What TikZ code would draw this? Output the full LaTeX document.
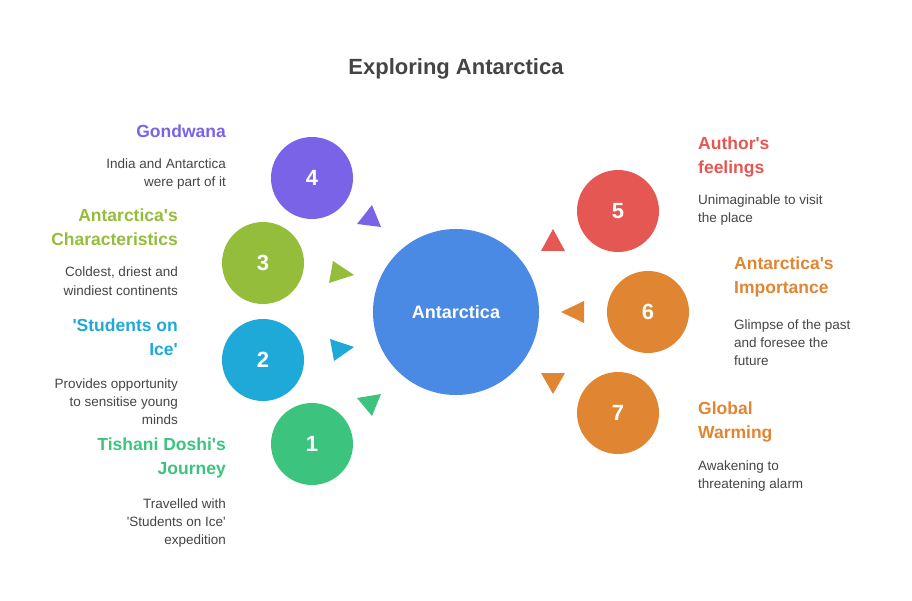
\documentclass[tikz,border=0pt]{standalone}
\usepackage{fontspec}
\setmainfont{Liberation Sans}
\newcommand{\q}{\textquotesingle}
\begin{document}
\begin{tikzpicture}[x=1pt,y=-1pt,
  big/.style={circle,minimum size=166pt,inner sep=0,fill=cblue,text=white,font=\bfseries\fontsize{18}{20}\selectfont},
  num/.style={circle,minimum size=82pt,inner sep=0,text=white,font=\bfseries\fontsize{22}{26}\selectfont},
  lab/.style={inner sep=0,font=\bfseries\fontsize{17.5}{24}\selectfont},
  desc/.style={inner sep=0,text=dtext,font=\fontsize{13.5}{18}\selectfont}]
\definecolor{cblue}{HTML}{4A89E4}
\definecolor{cpur}{HTML}{7B63E8}
\definecolor{cgrn}{HTML}{93BD3A}
\definecolor{ccyan}{HTML}{1FA9D8}
\definecolor{cgrn2}{HTML}{3CC47E}
\definecolor{cred}{HTML}{E55753}
\definecolor{corg}{HTML}{E08532}
\definecolor{dtext}{HTML}{444444}
\useasboundingbox (0,0) rectangle (912,601);
\node[inner sep=0,text=dtext,font=\bfseries\fontsize{22}{26}\selectfont,anchor=base] (title) at (456,75) {Exploring Antarctica};
\node[big] (c) at (456,312) {Antarctica};
\node[num,fill=cpur] (n4) at (312,178) {4};
\node[num,fill=cgrn] (n3) at (263,263) {3};
\node[num,fill=ccyan] (n2) at (263,360) {2};
\node[num,fill=cgrn2] (n1) at (312,444) {1};
\node[num,fill=cred] (n5) at (618,211) {5};
\node[num,fill=corg] (n6) at (648,312) {6};
\node[num,fill=corg] (n7) at (618,413) {7};
\fill[cpur] (372,205) -- (357,224) -- (381,227) -- cycle;
\fill[cgrn] (333,261) -- (354,275) -- (329,283) -- cycle;
\fill[ccyan] (330,339) -- (354,347) -- (334,361) -- cycle;
\fill[cgrn2] (357,398) -- (381,394) -- (372,416) -- cycle;
\fill[cred] (553,229) -- (541,251) -- (565,251) -- cycle;
\fill[corg] (584,301) -- (561,312) -- (584,323) -- cycle;
\fill[corg] (541,373) -- (565,373) -- (553,394) -- cycle;
% left
\node[lab,text=cpur,anchor=base east] (l4) at (226,138) {Gondwana};
\node[desc,align=right,anchor=base east] (d4) at (226,187) {India and Antarctica\\were part of it};
\node[lab,text=cgrn,align=right,anchor=base east] (l3) at (178,246) {Antarctica\q s\\Characteristics};
\node[desc,align=right,anchor=base east] (d3) at (178,295) {Coldest, driest and\\windiest continents};
\node[lab,text=ccyan,align=right,anchor=base east] (l2) at (178,355) {\q Students on\\Ice\q};
\node[desc,align=right,anchor=base east] (d2) at (178,424) {Provides opportunity\\to sensitise young\\minds};
\node[lab,text=cgrn2,align=right,anchor=base east] (l1) at (226,474) {Tishani Doshi\q s\\Journey};
\node[desc,align=right,anchor=base east] (d1) at (226,544) {Travelled with\\\q Students on Ice\q\\expedition};
% right
\node[lab,text=cred,align=left,anchor=base west] (l5) at (698,174) {Author\q s\\feelings};
\node[desc,align=left,anchor=base west] (d5) at (698,223) {Unimaginable to visit\\the place};
\node[lab,text=corg,align=left,anchor=base west] (l6) at (734,294) {Antarctica\q s\\Importance};
\node[desc,align=left,anchor=base west] (d6) at (734,365) {Glimpse of the past\\and foresee the\\future};
\node[lab,text=corg,align=left,anchor=base west] (l7) at (698,438) {Global\\Warming};
\node[desc,align=left,anchor=base west] (d7) at (698,488) {Awakening to\\threatening alarm};
\end{tikzpicture}
\end{document}
